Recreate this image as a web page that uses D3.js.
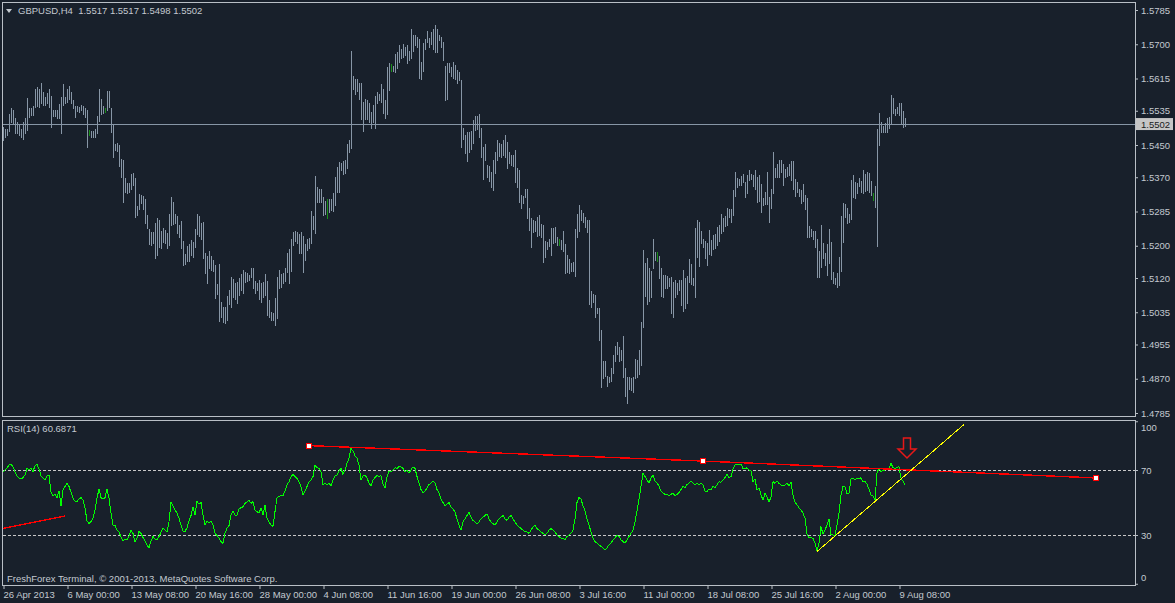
<!DOCTYPE html>
<html>
<head>
<meta charset="utf-8">
<script src="https://cdnjs.cloudflare.com/ajax/libs/d3/7.8.5/d3.min.js"></script>
<style>
  body { margin: 0; background: #18202b; }
  text { font-family: "Liberation Sans", Arial, sans-serif; font-size: 9.5px; fill: #c3c9d0; }
</style>
</head>
<body>
<div id="chart"></div>
<script>
// GBPUSD H4, bar highs / lows in pips above 1.4700
const BASE = 1.47, PIP = 0.0001;
const highs = [
  795,789,790,827,843,838,816,808,799,789, 808,816,866,841,843,847,888,893,888,903,
  882,870,878,888,871,837,838,837,852,868, 901,870,890,896,882,862,847,847,845,850,
  847,841,838,787,785,785,789,823,888,863, 847,843,885,885,841,799,752,754,750,716,
  713,668,656,656,678,681,669,599,628,625, 623,615,576,541,534,535,556,568,565,537,
  543,539,532,579,620,608,579,575,551,561, 512,480,500,504,514,509,541,579,574,557,
  559,483,475,487,475,465,452,405,455,361, 347,349,375,390,423,418,407,411,419,430,
  441,436,433,427,446,444,413,407,415,408, 411,430,413,365,336,334,370,422,441,429,
  433,446,483,493,516,533,537,535,529,535, 523,504,517,519,586,575,673,647,641,641,
  622,611,616,616,616,630,670,695,709,705, 710,713,752,762,983,921,915,915,905,903,
  856,864,862,853,831,849,872,882,876,901, 889,862,944,953,950,947,977,982,998,988,
  1000,992,998,983,1038,1023,1023,1018,1013,955, 1002,1013,1033,1016,1030,1038,1049,1038,1023,1019,
  1006,947,953,953,944,956,949,936,931,911, 791,775,783,783,785,813,822,822,828,791,
  746,752,700,698,684,713,733,762,754,752, 762,775,758,733,725,725,737,694,688,626,
  623,642,640,593,568,564,562,572,576,555, 551,513,510,518,543,543,547,521,516,514,
  536,504,477,466,456,460,541,579,601,589, 582,572,564,564,388,380,378,345,345,291,
  213,213,177,175,196,229,251,262,250,241, 276,196,175,174,171,175,218,217,241,312,
  490,458,469,444,438,518,485,485,475,444, 428,428,425,419,423,411,414,407,415,414,
  440,419,425,466,455,419,543,564,559,537, 518,513,506,539,514,527,529,546,552,579,
  568,574,593,590,590,638,684,667,665,673, 678,657,676,688,678,675,688,671,675,653,
  618,634,684,622,642,733,692,704,714,714, 703,690,695,703,711,711,665,659,640,638,
  653,626,618,549,541,537,537,518,488,552, 506,483,504,541,510,436,419,432,471,574,
  605,604,593,579,663,675,659,655,667,661, 688,678,684,680,661,630,648,789,829,808,
  797,804,816,820,874,866,839,844,855,855, 835,817
];
const lows = [
  762,771,774,785,808,804,780,779,775,771, 765,779,787,820,824,824,845,847,845,853,
  849,849,853,845,794,822,822,818,816,779, 849,853,857,865,853,843,819,835,832,837,
  828,820,744,775,771,769,769,779,810,828, 830,833,838,845,783,721,737,736,699,671,
  609,634,632,634,642,651,572,576,590,605, 590,556,543,504,503,506,469,477,498,494,
  510,506,494,502,551,553,557,531,521,494, 452,455,461,463,477,471,498,528,524,518,
  469,433,408,444,441,438,370,380,314,322, 312,309,316,355,349,374,367,359,378,390,
  382,411,413,415,422,394,384,389,367,361, 374,378,328,322,316,316,303,320,394,397,
  407,413,436,407,438,502,513,506,481,483, 436,465,490,495,506,542,531,609,609,609,
  576,578,570,583,589,586,601,634,633,688, 677,680,694,732,742,889,877,884,864,815,
  785,815,815,806,793,806,793,853,862,856, 829,818,826,886,934,934,930,942,957,967,
  969,973,953,961,967,983,998,992,917,914, 934,988,1005,992,1000,988,982,980,1011,994,
  961,862,864,932,922,916,914,904,911,746, 764,729,711,733,741,756,787,789,770,719,
  665,713,671,661,645,638,681,713,722,721, 725,721,694,706,700,698,659,646,609,593,
  607,622,568,539,498,535,537,524,527,522, 460,473,493,499,477,506,510,502,502,491,
  488,433,435,433,438,438,425,521,537,565, 560,547,535,355,349,361,322,332,266,150,
  171,177,152,163,165,184,213,232,215,217, 175,127,109,144,141,138,171,174,182,204,
  298,375,356,364,372,444,465,463,419,375, 372,394,394,399,332,324,372,380,389,353,
  339,345,359,409,405,403,374,471,450,506, 498,469,452,480,477,491,494,502,513,531,
  537,549,552,572,560,576,624,647,651,651, 657,622,632,663,665,648,640,609,612,585,
  601,603,604,560,593,630,670,670,671,684, 651,670,673,676,662,642,623,634,623,607,
  612,590,522,521,523,516,496,422,423,448, 469,452,427,458,417,407,405,397,403,438,
  510,572,556,560,566,622,618,630,648,634, 630,637,638,634,626,614,595,499,750,783,
  783,783,783,791,802,830,824,830,824,804, 794,798
];
const greenBars = [43, 51, 162, 194, 278, 327, 435];
const lastClose = 1.5502;

// RSI(14), one value per bar
const rsi = [
  69.0,70.0,71.0,73.1,73.5,72.1,69.0,66.3,64.9,64.5, 65.3,66.9,71.0,70.0,71.4,69.0,72.7,73.5,70.6,66.5,
  64.9,63.9,66.5,66.9,56.3,54.2,55.0,53.0,57.1,48.0, 57.7,59.8,61.8,59.8,56.3,52.6,50.9,50.5,52.2,53.0,
  51.5,46.8,38.6,37.2,38.2,40.3,45.4,52.6,58.3,53.0, 52.2,53.0,58.3,52.6,43.4,36.2,35.8,33.1,31.7,29.0,
  26.3,27.6,26.9,29.6,33.1,31.0,25.5,28.0,32.1,31.0, 28.4,26.3,23.8,22.2,26.3,29.0,27.6,26.9,29.0,31.7,
  34.5,33.1,31.7,38.2,50.1,48.0,45.4,43.4,40.3,36.2, 32.5,32.1,34.5,38.6,41.9,47.4,42.3,50.9,48.9,50.1,
  42.3,36.2,38.6,37.2,38.6,36.2,31.0,29.6,28.0,25.9, 24.9,31.0,34.1,35.8,42.3,44.4,42.3,42.3,46.0,46.8,
  47.4,49.5,50.1,51.5,49.5,50.5,45.4,44.4,43.4,46.8, 42.3,48.5,40.3,37.8,36.2,35.2,44.4,53.0,53.6,54.6,
  54.2,57.1,60.8,62.8,65.9,67.3,65.9,64.9,62.8,59.8, 54.6,57.1,59.8,62.8,63.9,65.9,72.7,71.4,71.0,69.0,
  60.8,61.8,60.8,61.8,60.4,63.9,66.5,66.9,69.4,71.0, 67.3,70.0,74.1,77.2,83.3,81.7,78.8,77.2,73.1,63.9,
  66.5,66.9,65.3,61.8,60.4,63.9,65.3,66.5,65.9,66.5, 61.2,59.1,65.9,69.4,69.0,70.0,71.4,71.0,72.1,
  72,71,69,70,68,70,72,71,66,62, 58,56,57,59,61,62,63,62,58,56,
  52,50,48,49,50,47,46,44,40,36, 33,38,40,42,44,41,39,38,37,38,
  40,41,42,43,40,38,37,36,38,40, 41,42,40,39,41,42,40,38,36,35,
  34,33,32,32,31,33,35,36,34,33, 32,31,30,31,33,34,33,32,30,29,
  28,28,27,29,30,31,33,40,50,53, 52,48,45,40,36,32,28,26,25,24,
  23,22,21,22,24,25,27,28,30,29, 27,26,25,27,29,31,33,38,45,52,
  60,68,66,64,62,65,67,63,62,60, 57,56,55,55,54,55,56,54,55,56,
  58,60,59,61,62,63,62,61,62,61,
  61.8,60.8,57.1,56.7,58.3,57.7,59.8,59.1,60.8,62.8,
  62.4,63.9,65.3,67.3,65.3,65.9,70.6,73.1,73.5,73.1, 73.5,71.0,70.6,71.4,70.0,69.4,62.8,64.5,57.7,59.1,
  54.6,51.5,55.6,53.6,50.1,53.6,62.8,61.8,63.2,61.8, 60.8,60.4,60.8,61.8,60.4,62.4,54.6,50.1,48.5,46.8,
  45.4,43.4,40.3,30.4,28.4,28.4,28.0,24.9,20.2,24.9, 35.2,30.4,33.1,36.2,39.9,30.4,30.0,29.6,36.2,43.4,
  54.6,59.8,59.8,55.6,55.6,64.5,64.9,63.9,64.9,64.5, 65.3,62.8,63.2,61.2,58.3,54.6,54.2,51.5,68.0,71.4,
  69.0,70.0,70.0,71.0,71.0,74.1,71.4,71.0,71.4,72.1, 64.9,63.2,60.7
];
const rsiLevels = [70, 30];

// axis labels
const priceTicks = [1.5785,1.5700,1.5615,1.5535,1.5450,1.5370,1.5285,1.5200,1.5120,1.5035,1.4955,1.4870,1.4785];
const rsiTicks = [100, 70, 30, 0];
const timeTicks = [0,32,64,96,128,160,192,224,256,288,320,352,384,416,448];
const timeLabels = ["26 Apr 2013","6 May 00:00","13 May 08:00","20 May 16:00","28 May 00:00","4 Jun 08:00",
  "11 Jun 16:00","19 Jun 00:00","26 Jun 08:00","3 Jul 16:00","11 Jul 00:00","18 Jul 08:00",
  "25 Jul 16:00","2 Aug 00:00","9 Aug 08:00"];

// drawn objects on the RSI window: [bar index, rsi value]
const resistLine1 = [[153, 85.0], [350, 75.5]];
const resistLine2 = [[350, 75.5], [546.5, 65.1]];
const oldLine = [[0, 34.1], [31, 41.7]];
const supportLine = [[407, 19.8], [480.5, 98.0]];
const arrowAt = [452, 89.7];

const W = 1175, H = 603;
const BG = "#18202b", BAR = "#8796a6", FRAME = "#b9bfc6";

const svg = d3.select("#chart").append("svg")
    .attr("width", W)
    .attr("height", H);

svg.append("rect").attr("width", W).attr("height", H).attr("fill", BG);

const x = d3.scaleLinear().domain([0, 451]).range([3, 905]);
const y = d3.scaleLinear().domain([1.4785, 1.5785]).range([413, 10]);
const yr = d3.scaleLinear().domain([0, 100]).range([583.75, 421.25]);
const px = i => Math.round(x(i)) + 0.5;

// frames
svg.append("rect").attr("x", 2.5).attr("y", 2.5).attr("width", 1133).attr("height", 414)
    .attr("fill", "none").attr("stroke", FRAME);
svg.append("rect").attr("x", 2.5).attr("y", 420.5).attr("width", 1133).attr("height", 165)
    .attr("fill", "none").attr("stroke", FRAME);

// price bars
const bars = highs.map((h, i) => ({ i: i, hi: BASE + h * PIP, lo: BASE + lows[i] * PIP }));
svg.append("g")
    .attr("shape-rendering", "crispEdges")
  .selectAll("line")
  .data(bars)
  .join("line")
    .attr("x1", d => px(d.i))
    .attr("x2", d => px(d.i))
    .attr("y1", d => Math.round(y(d.hi)))
    .attr("y2", d => Math.round(y(d.lo)) + 1)
    .attr("stroke", d => greenBars.includes(d.i) ? "#1a8f1a" : BAR);

// bid line
svg.append("line")
    .attr("x1", 3).attr("x2", 1135)
    .attr("y1", Math.round(y(lastClose)) + 0.5).attr("y2", Math.round(y(lastClose)) + 0.5)
    .attr("stroke", BAR);

// price axis
const yAxis = svg.append("g")
    .attr("transform", "translate(1135,0)")
    .call(d3.axisRight(y).tickValues(priceTicks).tickFormat(d3.format(".4f")).tickSize(3).tickPadding(3));
yAxis.select(".domain").remove();
yAxis.selectAll("line").attr("stroke", FRAME);
yAxis.selectAll("text").attr("font-family", null).attr("font-size", null);

// last price marker
svg.append("rect").attr("x", 1136).attr("y", y(lastClose) - 6).attr("width", 37).attr("height", 12)
    .attr("fill", "#c6c6c6");
svg.append("text").attr("x", 1141).attr("y", y(lastClose) + 3.5)
    .style("fill", "#1b1b1b").text(lastClose.toFixed(4));

// title
svg.append("path").attr("d", "M6,9 L12,9 L9,13 Z").attr("fill", "#c3c9d0");
svg.append("text").attr("x", 18).attr("y", 14).attr("xml:space", "preserve")
    .text("GBPUSD,H4  1.5517 1.5517 1.5498 1.5502");

// RSI window
svg.append("clipPath").attr("id", "sub")
  .append("rect").attr("x", 3).attr("y", 421).attr("width", 1132).attr("height", 164);

svg.append("g").selectAll("line")
  .data(rsiLevels)
  .join("line")
    .attr("x1", 3).attr("x2", 1135)
    .attr("y1", d => Math.round(yr(d)) + 0.5).attr("y2", d => Math.round(yr(d)) + 0.5)
    .attr("stroke", "#c8c8c8")
    .attr("stroke-dasharray", "3,2");

const line = d3.line().x(d => x(d[0])).y(d => yr(d[1]));
const objects = svg.append("g").attr("clip-path", "url(#sub)");

objects.append("path")
    .attr("d", line(rsi.map((v, i) => [i, v])))
    .attr("fill", "none")
    .attr("stroke", "#00ff00")
    .attr("stroke-width", 1)
    .attr("shape-rendering", "crispEdges");

[resistLine1, resistLine2, oldLine].forEach(l => {
  objects.append("path").attr("d", line(l)).attr("fill", "none")
      .attr("stroke", "#ff0000").attr("stroke-width", 1.4)
      .attr("shape-rendering", "crispEdges");
});
objects.append("path").attr("d", line(supportLine)).attr("fill", "none")
    .attr("stroke", "#ffff00").attr("stroke-width", 1)
    .attr("shape-rendering", "crispEdges");

objects.selectAll(".handle")
  .data([resistLine1[0], resistLine1[1], resistLine2[1]])
  .join("rect")
    .attr("class", "handle")
    .attr("x", d => Math.round(x(d[0])) - 2.5).attr("y", d => Math.round(yr(d[1])) - 2.5)
    .attr("width", 5).attr("height", 5)
    .attr("fill", "#ffffff").attr("stroke", "#ff0000");

// down arrow
svg.append("path")
    .attr("transform", `translate(${x(arrowAt[0])},${yr(arrowAt[1])})`)
    .attr("d", "M-3.5,0 H3.5 V11 H9 L0,20 L-9,11 H-3.5 Z")
    .attr("fill", "none")
    .attr("stroke", "#e81818")
    .attr("stroke-width", 1.5);

// RSI axis
const rAxis = svg.append("g")
    .attr("transform", "translate(1135,0)")
    .call(d3.axisRight(yr).tickValues(rsiTicks).tickSize(3).tickPadding(3));
rAxis.select(".domain").remove();
rAxis.selectAll("line").attr("stroke", FRAME);
rAxis.selectAll("text").attr("font-family", null).attr("font-size", null)
    .attr("y", d => d === 100 ? 6 : d === 0 ? -6 : 0);

svg.append("text").attr("x", 7).attr("y", 432).text("RSI(14) 60.6871");
svg.append("text").attr("x", 7).attr("y", 581.5)
    .text("FreshForex Terminal, \u00a9 2001-2013, MetaQuotes Software Corp.");

// time axis
const xAxis = svg.append("g")
    .attr("transform", "translate(0,585)")
    .call(d3.axisBottom(x).tickValues(timeTicks).tickFormat((d, i) => timeLabels[i]).tickSize(4).tickPadding(2));
xAxis.select(".domain").remove();
xAxis.selectAll("line").attr("stroke", FRAME).attr("transform", "translate(0.5,0)");
xAxis.selectAll("text").attr("font-family", null).attr("font-size", null)
    .attr("text-anchor", "start").attr("y", 6);
</script>
</body>
</html>
